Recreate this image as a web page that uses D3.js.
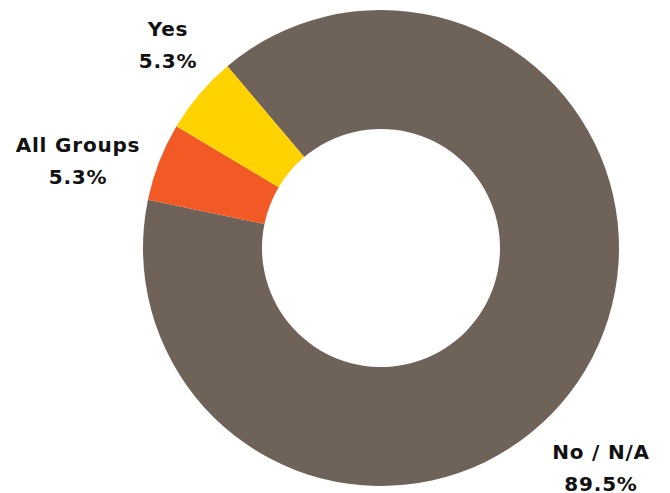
<!DOCTYPE html>
<html>
<head>
<meta charset="utf-8">
<script src="https://cdn.jsdelivr.net/npm/d3@7"></script>
<style>
  html, body { margin: 0; padding: 0; background: #fff; }
  svg { display: block; }
  .lbl { font-family: "DejaVu Sans", sans-serif; font-weight: bold; font-size: 20px; letter-spacing: 0.8px; fill: #111; }
</style>
</head>
<body>
<svg id="chart" width="670" height="493"></svg>
<script>
// Segments, listed clockwise from the start angle
const categories = ["No / N/A", "All Groups", "Yes"];
const percentages = [89.5, 5.3, 5.3];
const colors = ["#6f6259", "#f15a24", "#ffd200"];

const width = 670, height = 493;
const cx = 381, cy = 248;
const outerR = 238, innerR = 119;
const startDeg = -40.2;
const lineGap = 32.5;

// label anchors (centre x, first baseline y), relative to the chart centre
const labelOffsets = [
  [220, 210.5],  // No / N/A
  [-303, -96.5], // All Groups
  [-213, -212.5] // Yes
];

const svg = d3.select("#chart");
const g = svg.append("g").attr("transform", `translate(${cx},${cy})`);

const data = categories.map((c, i) => ({ name: c, value: percentages[i], color: colors[i], off: labelOffsets[i] }));

const pie = d3.pie()
  .value(d => d.value)
  .sort(null)
  .startAngle(startDeg * Math.PI / 180)
  .endAngle(startDeg * Math.PI / 180 + 2 * Math.PI);

const arc = d3.arc().innerRadius(innerR).outerRadius(outerR);

g.selectAll("path.slice")
  .data(pie(data))
  .join("path")
  .attr("class", "slice")
  .attr("d", arc)
  .attr("fill", d => d.data.color);

const labels = g.selectAll("text.lbl")
  .data(data)
  .join("text")
  .attr("class", "lbl")
  .attr("text-anchor", "middle")
  .attr("transform", d => `translate(${d.off[0]},${d.off[1]})`);

labels.append("tspan").attr("x", 0).attr("y", 0).text(d => d.name);
labels.append("tspan").attr("x", 0).attr("y", lineGap).text(d => d3.format(".1f")(d.value) + "%");
</script>
</body>
</html>
